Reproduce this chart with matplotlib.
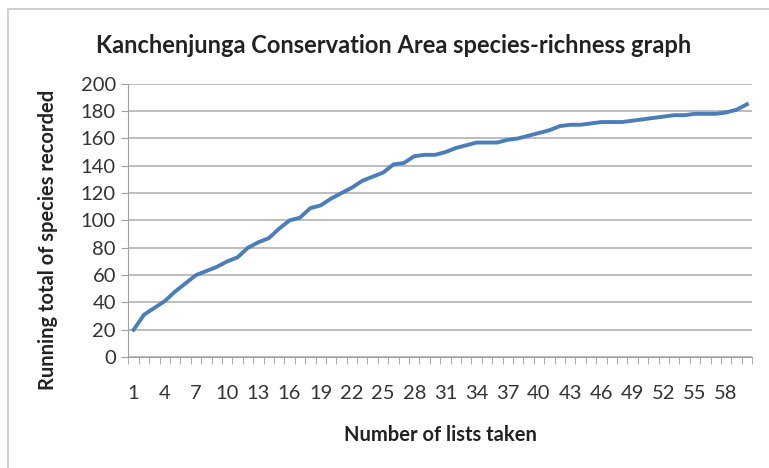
import matplotlib.pyplot as plt
import matplotlib.patches as patches
import numpy as np

plt.rcParams['font.family'] = ['Lato', 'DejaVu Sans']

# running total of species per list
lists_taken = list(range(1, 61))
species_total = [20, 31, 36, 41, 48, 54, 60, 63, 66, 70,
                 73, 80, 84, 87, 94, 100, 102, 109, 111, 116,
                 120, 124, 129, 132, 135, 141, 142, 147, 148, 148,
                 150, 153, 155, 157, 157, 157, 159, 160, 162, 164,
                 166, 169, 170, 170, 171, 172, 172, 172, 173, 174,
                 175, 176, 177, 177, 178, 178, 178, 179, 181, 185]
y_ticks = list(range(0, 201, 20))
x_tick_labels = lists_taken[::3]

fig = plt.figure(figsize=(7.69, 4.68), dpi=100)
ax = fig.add_axes([0.167, 0.237, 0.811, 0.584])

# chart area border
fig.patches.append(patches.Rectangle((0.011, -0.01), 1.0, 0.99, transform=fig.transFigure,
                                     fill=False, edgecolor='#c8c8c8', lw=1.2))

ax.plot(lists_taken, species_total, color='#4a7ebb', lw=2.8, solid_joinstyle='round')

ax.set_xlim(0.5, len(lists_taken) + 0.5)
ax.set_ylim(0, 200)
ax.set_yticks(y_ticks)
ax.set_xticks(x_tick_labels)
ax.set_xticklabels([str(v) for v in x_tick_labels])
ax.set_xticks(np.arange(0.5, len(lists_taken) + 1), minor=True)

ax.grid(axis='y', color='#bdbdbd', lw=1.4)
ax.set_axisbelow(True)
for s in ['top', 'right']:
    ax.spines[s].set_visible(False)
ax.spines['left'].set_color('#a0a0a0')
ax.spines['bottom'].set_color('#a0a0a0')
ax.tick_params(axis='x', which='major', length=0, pad=20, labelsize=14.5, colors='#333333')
ax.tick_params(axis='x', which='minor', length=5, color='#a0a0a0')
ax.tick_params(axis='y', length=5, color='#a0a0a0', labelsize=14.5, labelcolor='#333333', pad=4)

ax.set_title('Kanchenjunga Conservation Area species-richness graph',
             fontsize=17, fontweight='bold', color='#222222', pad=22, x=0.425)
ax.set_xlabel('Number of lists taken', fontsize=14.5, fontweight='bold', color='#222222')
ax.xaxis.set_label_coords(0.5, -0.25)
ax.set_ylabel('Running total of species recorded', fontsize=14.5, fontweight='bold', color='#222222')
ax.yaxis.set_label_coords(-0.113, 0.43)

fig.savefig('out.png', dpi=100)
